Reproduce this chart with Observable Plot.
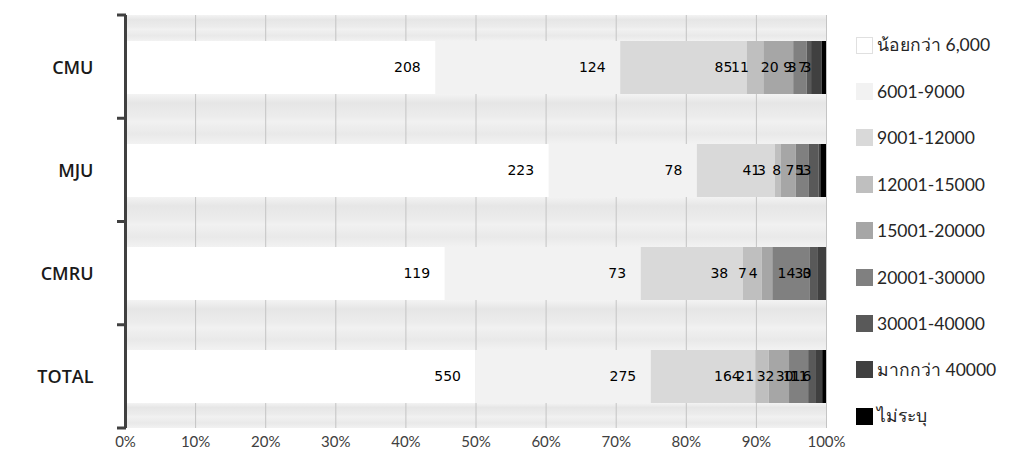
<!DOCTYPE html>
<html>
<head>
<meta charset="utf-8">
<script src="https://cdn.jsdelivr.net/npm/d3@7"></script>
<script src="https://cdn.jsdelivr.net/npm/@observablehq/plot@0.6"></script>
<style>
  html, body { margin: 0; padding: 0; background: #fff; }
  #wrap { position: relative; width: 1034px; height: 469px; overflow: hidden; }
  #legend { position: absolute; left: 856px; top: 22px; font-family: "Lato", "Noto Sans", "DejaVu Sans", sans-serif; font-size: 17.5px; color: #262626; }
  .row { display: flex; align-items: center; height: 46.4px; white-space: nowrap; }
  .sw { width: 17px; height: 17px; margin-right: 4px; box-sizing: border-box; flex: none; }
</style>
</head>
<body>
<div id="wrap"><div id="legend"></div></div>
<script>
const categories = ["CMU", "MJU", "CMRU", "TOTAL"];
const series = ["น้อยกว่า 6,000", "6001-9000", "9001-12000", "12001-15000", "15001-20000", "20001-30000", "30001-40000", "มากกว่า 40000", "ไม่ระบุ"];
const colors = ["#ffffff", "#f2f2f2", "#d9d9d9", "#bfbfbf", "#a6a6a6", "#808080", "#595959", "#404040", "#000000"];
const cmu   = [208, 124, 85, 11, 20, 9, 3, 7, 3];
const mju   = [223, 78, 41, 3, 8, 7, 5, 1, 3];
const cmru  = [119, 73, 38, 7, 4, 14, 3, 3, 0];
const total = [550, 275, 164, 21, 32, 30, 11, 11, 6];
const xTicks = [0, 0.1, 0.2, 0.3, 0.4, 0.5, 0.6, 0.7, 0.8, 0.9, 1];
const xTickLabels = ["0%", "10%", "20%", "30%", "40%", "50%", "60%", "70%", "80%", "90%", "100%"];

const valuesByCat = {CMU: cmu, MJU: mju, CMRU: cmru, TOTAL: total};
const data = [];
for (const c of categories) {
  valuesByCat[c].forEach((v, i) => data.push({cat: c, series: series[i], value: v}));
}

const PAD = 0.487;

// background stripes in the gaps between bars, derived from the band scale
function bandDecor(index, scales, values, dims) {
  const g = d3.create("svg:g");
  const y = scales.y, x = scales.x;
  const x0 = x(0), x1 = x(1);
  const top = dims.marginTop, bottom = dims.height - dims.marginBottom;
  const step = (bottom - top) / categories.length;
  const bw = y.bandwidth ? y.bandwidth() : step * (1 - PAD);
  const defs = g.append("defs");
  const grad = defs.append("linearGradient").attr("id", "gapgrad").attr("x1", 0).attr("y1", 0).attr("x2", 0).attr("y2", 1);
  [[0, "#f3f3f3"], [0.18, "#e6e6e6"], [0.45, "#ececec"], [0.55, "#f1f1f1"], [0.8, "#e9e9e9"], [1, "#f2f2f2"]]
    .forEach(([o, c]) => grad.append("stop").attr("offset", o).attr("stop-color", c));
  const edges = [top];
  categories.forEach(c => { edges.push(y(c)); edges.push(y(c) + bw); });
  edges.push(bottom);
  for (let i = 0; i < edges.length; i += 2) {
    g.append("rect").attr("x", x0).attr("width", x1 - x0)
      .attr("y", edges[i]).attr("height", edges[i + 1] - edges[i])
      .attr("fill", "url(#gapgrad)");
  }
  return g.node();
}
// short ticks at the band boundaries on the category axis
function bandTicks(index, scales, values, dims) {
  const g = d3.create("svg:g");
  const x0 = scales.x(0);
  const top = dims.marginTop, bottom = dims.height - dims.marginBottom;
  const step = (bottom - top) / categories.length;
  for (let i = 0; i <= categories.length; i++) {
    g.append("line").attr("x1", x0 - 8).attr("x2", x0 + 1)
      .attr("y1", top + i * step).attr("y2", top + i * step)
      .attr("stroke", "#404040").attr("stroke-width", 3);
  }
  return g.node();
}

const chart = Plot.plot({
  width: 1034,
  height: 469,
  marginLeft: 125,
  marginRight: 208,
  marginTop: 15,
  marginBottom: 41,
  style: {fontFamily: "Lato, 'DejaVu Sans', sans-serif", background: "transparent", overflow: "visible"},
  x: {domain: [0, 1], axis: null, label: null},
  y: {domain: categories, paddingInner: PAD, paddingOuter: PAD / 2, axis: null, label: null},
  color: {domain: series, range: colors},
  marks: [
    bandDecor,
    Plot.gridX(xTicks.slice(1), {stroke: "#c4c4c4", strokeOpacity: 1, strokeWidth: 1}),
    Plot.barX(data, Plot.stackX({x: "value", y: "cat", fill: "series", offset: "normalize"})),
    Plot.text(data, Plot.stackX2({x: "value", y: "cat", z: "series", offset: "normalize", text: d => String(d.value),
      textAnchor: "end", dx: -15, fill: "#000", fontSize: 14, fontFamily: "'DejaVu Sans', sans-serif"})),
    Plot.ruleX([0], {stroke: "#404040", strokeWidth: 3}),
    bandTicks,
    Plot.axisX(xTicks, {tickSize: 0, tickPadding: 8, tickFormat: (d, i) => xTickLabels[i], fontSize: 15, fill: "#404040", anchor: "bottom", label: null}),
    Plot.axisY(categories, {tickSize: 0, tickPadding: 32, fontSize: 18, fontWeight: 600, fill: "#1a1a1a", anchor: "left", label: null, fontFamily: "'Open Sans', sans-serif"})
  ]
});
const wrap = document.getElementById("wrap");
wrap.insertBefore(chart, wrap.firstChild);

const legend = document.getElementById("legend");
series.forEach((s, i) => {
  const row = document.createElement("div");
  row.className = "row";
  const sw = document.createElement("div");
  sw.className = "sw";
  sw.style.background = colors[i];
  if (i === 0) sw.style.border = "1px solid #e0e0e0";
  const t = document.createElement("span");
  t.textContent = s;
  row.appendChild(sw); row.appendChild(t);
  legend.appendChild(row);
});
</script>
</body>
</html>
